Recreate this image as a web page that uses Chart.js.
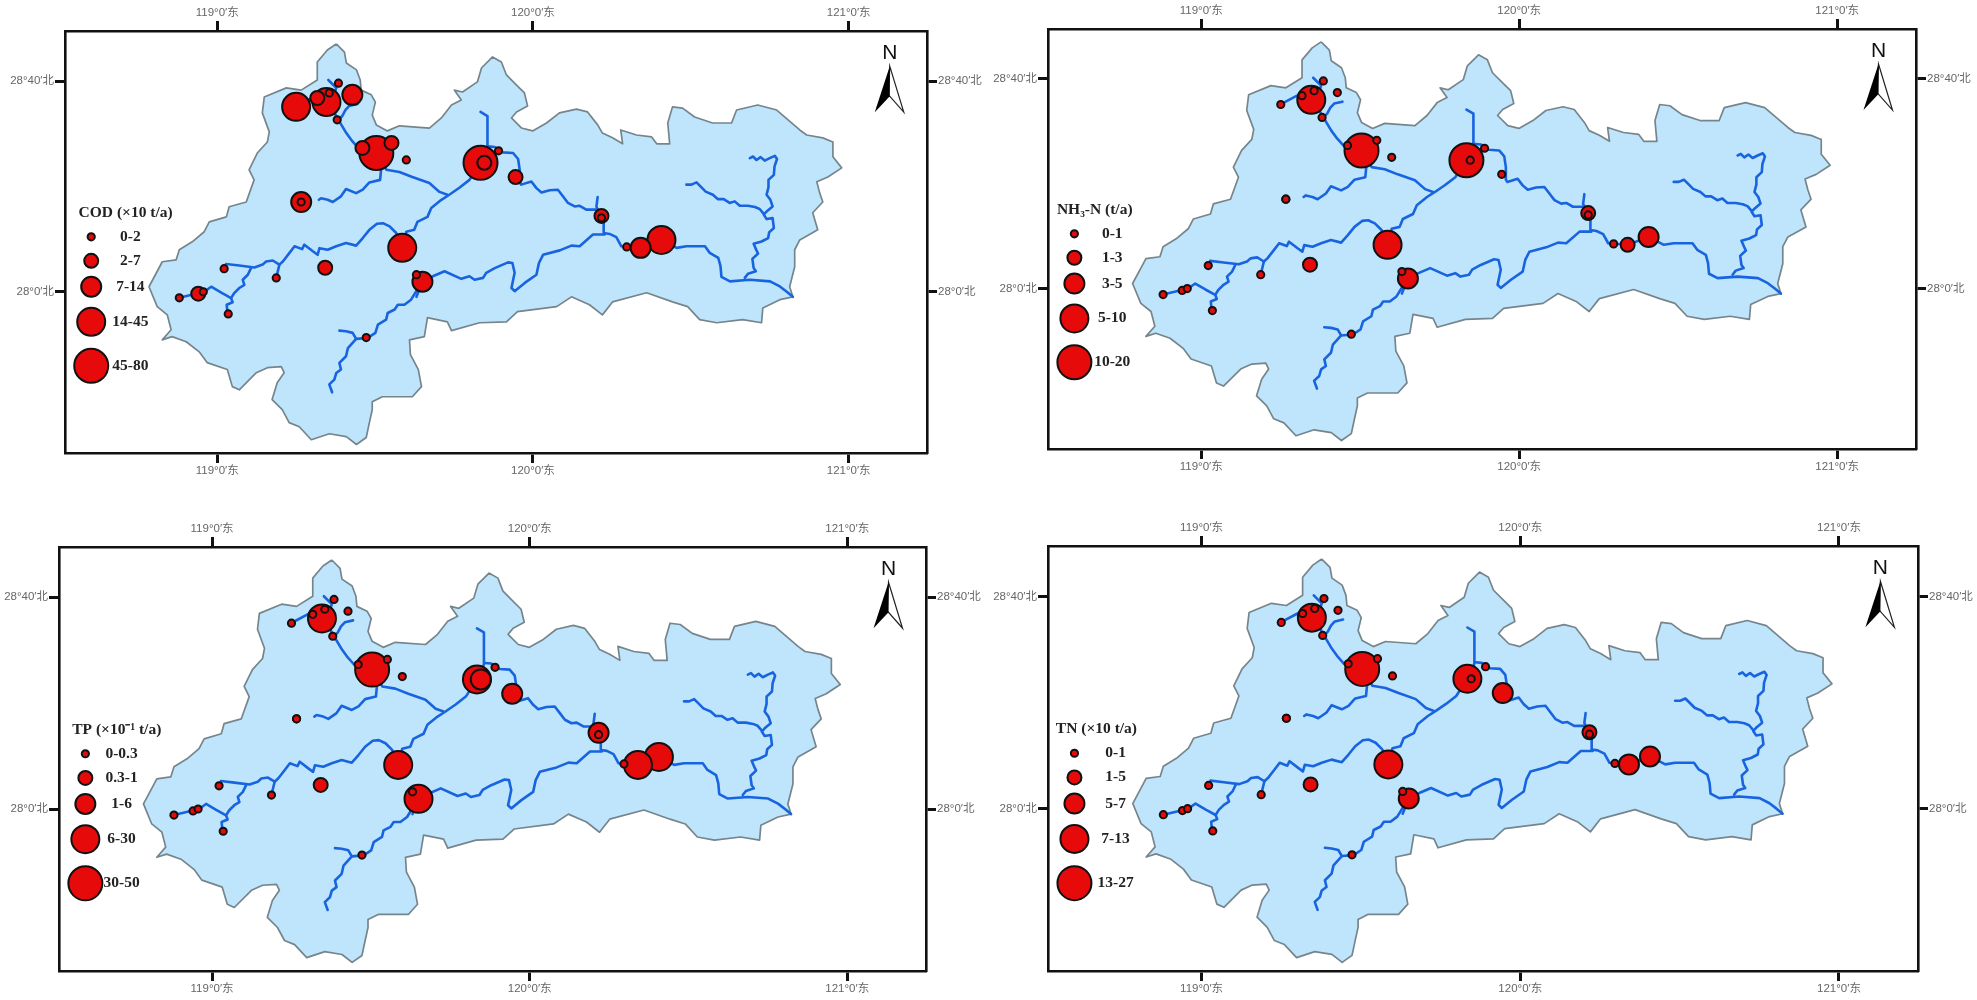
<!DOCTYPE html>
<html lang="zh">
<head>
    <meta charset="UTF-8">
    <title>流域污染负荷分布</title>
    <script src="https://cdn.jsdelivr.net/npm/chart.js"></script>
    <style>
        body { margin: 0; background: #fff; }
        canvas { position: absolute; }
    </style>
</head>
<body>
    <canvas id="mapCOD"></canvas>
    <canvas id="mapNH3"></canvas>
    <canvas id="mapTP"></canvas>
    <canvas id="mapTN"></canvas>

    <script>
        // axis ticks, degrees
        const lonTicks = [119, 120, 121];
        const lonTickLabels = ['119°0′东', '120°0′东', '121°0′东'];
        const latTicks = [28, 28.6667];
        const latTickLabels = ['28°0′北', '28°40′北'];

        // basin boundary [lon, lat]
        const basinOutline = [
            [119.377,28.784],[119.403,28.758],[119.409,28.724],[119.441,28.702],[119.453,28.670],[119.456,28.638],
            [119.488,28.623],[119.501,28.600],[119.491,28.559],[119.504,28.528],[119.539,28.509],[119.577,28.525],
            [119.672,28.518],[119.710,28.550],[119.742,28.591],[119.773,28.607],[119.751,28.638],[119.777,28.632],
            [119.824,28.664],[119.837,28.708],[119.872,28.743],[119.900,28.727],[119.916,28.686],[119.948,28.654],
            [119.973,28.629],[119.983,28.588],[119.948,28.569],[119.932,28.550],[119.964,28.518],[119.999,28.509],
            [120.043,28.534],[120.084,28.566],[120.138,28.578],[120.173,28.569],[120.205,28.528],[120.220,28.502],
            [120.252,28.487],[120.284,28.468],[120.278,28.512],[120.328,28.496],[120.376,28.490],[120.392,28.468],
            [120.433,28.468],[120.427,28.534],[120.442,28.585],[120.474,28.581],[120.512,28.553],[120.569,28.534],
            [120.629,28.534],[120.645,28.575],[120.712,28.591],[120.772,28.575],[120.845,28.512],[120.867,28.496],
            [120.918,28.487],[120.950,28.474],[120.950,28.427],[120.978,28.392],[120.934,28.363],[120.899,28.348],
            [120.908,28.313],[120.918,28.284],[120.886,28.250],[120.902,28.196],[120.845,28.164],[120.829,28.133],
            [120.829,28.079],[120.813,28.016],[120.823,27.984],[120.782,27.975],[120.728,27.949],[120.724,27.902],
            [120.664,27.912],[120.582,27.902],[120.528,27.912],[120.490,27.953],[120.442,27.968],[120.360,27.997],
            [120.252,27.968],[120.220,27.927],[120.179,27.959],[120.122,27.984],[120.075,27.953],[119.951,27.937],
            [119.916,27.905],[119.831,27.902],[119.742,27.877],[119.729,27.905],[119.666,27.918],[119.656,27.858],
            [119.609,27.848],[119.612,27.801],[119.637,27.754],[119.647,27.700],[119.618,27.668],[119.523,27.668],
            [119.491,27.652],[119.491,27.627],[119.482,27.586],[119.472,27.539],[119.441,27.517],[119.409,27.542],
            [119.355,27.551],[119.298,27.532],[119.260,27.573],[119.228,27.586],[119.206,27.627],[119.174,27.659],
            [119.190,27.712],[119.212,27.744],[119.203,27.763],[119.159,27.760],[119.124,27.744],[119.070,27.690],
            [119.048,27.700],[119.032,27.754],[118.968,27.776],[118.943,27.810],[118.902,27.842],[118.857,27.858],
            [118.826,27.848],[118.854,27.880],[118.842,27.927],[118.810,27.953],[118.784,28.016],[118.816,28.076],
            [118.826,28.095],[118.870,28.101],[118.880,28.133],[118.921,28.158],[118.959,28.190],[118.975,28.221],
            [119.029,28.237],[119.038,28.269],[119.092,28.284],[119.117,28.354],[119.101,28.386],[119.127,28.439],
            [119.159,28.474],[119.165,28.506],[119.143,28.566],[119.149,28.616],[119.219,28.645],[119.266,28.638],
            [119.317,28.670],[119.317,28.727],[119.349,28.765],[119.377,28.784]
        ];

        // river courses [lon, lat]
        const riverNorthWest = [[119.254,28.588],[119.301,28.613],[119.339,28.623],[119.384,28.544],[119.409,28.502],[119.425,28.480],[119.447,28.455],[119.504,28.439],[119.536,28.386],[119.577,28.379],[119.618,28.363],[119.672,28.344],[119.704,28.316],[119.729,28.307]];
        const riverHeadwater = [[119.352,28.670],[119.377,28.645],[119.365,28.607]];
        const riverHeadEast = [[119.444,28.594],[119.418,28.588],[119.406,28.575],[119.396,28.556],[119.384,28.544]];
        const riverMidSouth = [[119.503,28.439],[119.519,28.386],[119.516,28.354],[119.482,28.346],[119.461,28.323],[119.440,28.312],[119.408,28.325],[119.392,28.302],[119.366,28.284],[119.350,28.291],[119.329,28.296],[119.322,28.291]];
        const riverMainStem = [[119.586,28.139],[119.599,28.190],[119.624,28.196],[119.634,28.221],[119.666,28.237],[119.678,28.265],[119.710,28.291],[119.735,28.307],[119.767,28.329],[119.799,28.354],[119.834,28.408]];
        const riverNorthTrib = [[119.834,28.569],[119.856,28.556],[119.856,28.458],[119.846,28.408]];
        const riverEastMain = [[119.858,28.460],[119.879,28.458],[119.905,28.441],[119.937,28.439],[119.953,28.420],[119.958,28.386],[119.958,28.346],[119.963,28.339],[119.995,28.349],[120.011,28.328],[120.027,28.314],[120.053,28.321],[120.079,28.323],[120.095,28.302],[120.111,28.281],[120.132,28.270],[120.148,28.272],[120.169,28.260],[120.201,28.260],[120.217,28.239],[120.224,28.223],[120.224,28.186],[120.243,28.183],[120.264,28.173],[120.280,28.144],[120.341,28.139],[120.407,28.164],[120.455,28.139],[120.486,28.144],[120.545,28.144],[120.560,28.123],[120.587,28.107],[120.594,28.081],[120.597,28.047],[120.624,28.033],[120.687,28.038],[120.751,28.033],[120.782,28.017],[120.804,28.000],[120.823,27.984]];
        const riverStub = [[120.205,28.300],[120.201,28.269],[120.217,28.239]];
        const riverSouthEast = [[120.227,28.181],[120.190,28.181],[120.148,28.144],[120.122,28.146],[120.085,28.131],[120.032,28.117],[120.019,28.091],[120.011,28.054],[119.974,28.028],[119.942,28.002],[119.932,28.012],[119.942,28.060],[119.935,28.091],[119.921,28.093],[119.879,28.075],[119.852,28.060],[119.842,28.044],[119.815,28.038],[119.799,28.049],[119.773,28.041],[119.720,28.065],[119.683,28.049],[119.650,28.032]];
        const riverSouth = [[119.651,28.033],[119.630,28.001],[119.614,27.975],[119.593,27.959],[119.572,27.959],[119.562,27.944],[119.540,27.933],[119.535,27.912],[119.509,27.896],[119.501,27.870],[119.477,27.854],[119.440,27.851],[119.414,27.822],[119.408,27.796],[119.387,27.775],[119.392,27.754],[119.377,27.743],[119.371,27.722],[119.355,27.707],[119.364,27.682]];
        const riverSouthStub = [[119.650,28.032],[119.631,27.984]];
        const riverSouthBranch = [[119.440,27.851],[119.429,27.870],[119.408,27.875],[119.387,27.877]];
        const riverWest = [[119.588,28.138],[119.567,28.186],[119.546,28.207],[119.525,28.217],[119.506,28.215],[119.482,28.196],[119.461,28.170],[119.440,28.146],[119.408,28.154],[119.377,28.144],[119.350,28.133],[119.324,28.138],[119.318,28.117],[119.303,28.128],[119.276,28.149],[119.269,28.135],[119.245,28.144],[119.229,28.123],[119.208,28.096],[119.197,28.086],[119.176,28.099],[119.155,28.096],[119.144,28.086],[119.118,28.077],[119.070,28.083],[119.028,28.088]];
        const riverWestStub = [[119.197,28.086],[119.187,28.044]];
        const riverTrib = [[119.107,28.075],[119.097,28.054],[119.081,28.038],[119.086,28.022],[119.070,28.012],[119.054,27.996],[119.044,27.980],[119.049,27.967],[119.030,27.959],[119.033,27.930]];
        const riverFarWest = [[119.044,27.980],[119.013,27.997],[118.981,28.016],[118.959,28.000],[118.880,27.981]];
        const riverEastTrib = [[120.687,28.423],[120.697,28.428],[120.708,28.417],[120.721,28.426],[120.734,28.415],[120.750,28.423],[120.766,28.430],[120.773,28.420],[120.765,28.396],[120.763,28.370],[120.746,28.354],[120.746,28.331],[120.740,28.307],[120.752,28.291],[120.759,28.270],[120.740,28.254],[120.731,28.244],[120.740,28.230],[120.759,28.233],[120.763,28.202],[120.748,28.188],[120.745,28.170],[120.724,28.159],[120.699,28.152],[120.708,28.131],[120.713,28.121],[120.695,28.104],[120.699,28.075],[120.706,28.065],[120.681,28.057],[120.671,28.044]];
        const riverEastBranch = [[120.486,28.339],[120.502,28.339],[120.518,28.346],[120.533,28.331],[120.547,28.317],[120.570,28.307],[120.586,28.293],[120.604,28.293],[120.623,28.281],[120.639,28.286],[120.655,28.272],[120.681,28.272],[120.703,28.268],[120.718,28.262],[120.729,28.249]];
        const rivers = [riverNorthWest, riverHeadwater, riverHeadEast, riverMidSouth, riverMainStem, riverNorthTrib, riverEastMain, riverStub,
            riverSouthEast, riverSouth, riverSouthStub, riverSouthBranch, riverWest, riverWestStub, riverTrib, riverFarWest, riverEastTrib, riverEastBranch];

        // discharge sites
        const siteLon = [119.250,119.346,119.317,119.355,119.384,119.428,119.380,119.504,119.460,119.552,119.599,119.834,119.846,119.891,119.945,119.266,119.266,119.586,119.650,119.631,120.217,120.217,120.407,120.341,120.297,119.342,119.187,119.022,118.940,118.956,118.880,119.035,119.472];
        const siteLat = [28.585,28.600,28.613,28.629,28.660,28.623,28.544,28.439,28.455,28.471,28.417,28.408,28.408,28.446,28.363,28.284,28.284,28.139,28.032,28.054,28.240,28.234,28.164,28.139,28.142,28.076,28.044,28.073,27.994,28.000,27.981,27.930,27.855];

        // load class of every site (index into the legend classes)
        const codClass = [3,3,1,0,0,2,0,4,1,1,0,4,1,0,1,2,0,3,2,0,1,0,3,2,0,1,0,0,1,0,0,0,0];
        const nh3Class = [0,3,0,0,0,0,0,4,0,0,0,4,0,0,0,0,0,3,2,0,1,0,2,1,0,1,0,0,0,0,0,0,0];
        const tpClass  = [0,3,0,0,0,0,0,4,0,0,0,3,2,0,2,0,0,3,3,0,2,0,3,3,0,1,0,0,0,0,0,0,0];
        const tnClass  = [0,3,0,0,0,0,0,4,0,0,0,3,0,0,2,0,0,3,2,0,1,0,2,2,0,1,0,0,0,0,0,0,0];

        const codLegend = ['0-2', '2-7', '7-14', '14-45', '45-80'];
        const nh3Legend = ['0-1', '1-3', '3-5', '5-10', '10-20'];
        const tpLegend  = ['0-0.3', '0.3-1', '1-6', '6-30', '30-50'];
        const tnLegend  = ['0-1', '1-5', '5-7', '7-13', '13-27'];

        // legend placement on the map, degrees
        const legendLon = 118.601;
        const legendLat = [28.174, 28.098, 28.016, 27.905, 27.766];
        const legendTitleLat = 28.25;
        const northLon = 121.13;
        const northLat = 28.755;

        const classRadius = [3.6, 7, 10, 14, 17];
        const MX = 58, MY = 32;   // room for the axes round the map frame

        const panels = [
            { id: 'mapCOD', title: 'COD (×10 t/a)', legend: codLegend, classes: codClass, box: [65, 31, 927, 453], titleLon: 118.71, labelLon: 118.725 },
            { id: 'mapNH3', title: 'NH₃-N (t/a)', legend: nh3Legend, classes: nh3Class, box: [1048, 29, 1916, 449], titleLon: 118.665, labelLon: 118.72 },
            { id: 'mapTP', title: 'TP (×10⁻¹ t/a)', legend: tpLegend, classes: tpClass, box: [59, 547, 926, 971], titleLon: 118.70, labelLon: 118.715 },
            { id: 'mapTN', title: 'TN (×10 t/a)', legend: tnLegend, classes: tnClass, box: [1048, 546, 1918, 971], titleLon: 118.67, labelLon: 118.73 }
        ];

        const toPoints = list => list.map(p => ({ x: p[0], y: p[1] }));

        // legend text and north arrow, drawn on top of the map
        const mapDecor = {
            id: 'mapDecor',
            afterDatasetsDraw(chart, args, opts) {
                const { ctx, scales: { x, y } } = chart;
                ctx.save();
                ctx.textAlign = 'center';
                ctx.textBaseline = 'middle';
                ctx.fillStyle = '#222';
                ctx.font = 'bold 15.5px "Liberation Serif"';
                ctx.fillText(opts.title, x.getPixelForValue(opts.titleLon), y.getPixelForValue(legendTitleLat));
                opts.legend.forEach((txt, i) => {
                    ctx.fillText(txt, x.getPixelForValue(opts.labelLon), y.getPixelForValue(legendLat[i]));
                });

                const nx = x.getPixelForValue(northLon), ny = y.getPixelForValue(northLat);
                ctx.font = '21px "Liberation Sans"';
                ctx.fillStyle = '#111';
                ctx.fillText('N', nx, ny);
                ctx.beginPath();
                ctx.moveTo(nx, ny + 13); ctx.lineTo(nx + 14, ny + 59); ctx.lineTo(nx - 1, ny + 42); ctx.closePath();
                ctx.fillStyle = '#fff'; ctx.strokeStyle = '#222'; ctx.lineWidth = 1.2;
                ctx.fill(); ctx.stroke();
                ctx.beginPath();
                ctx.moveTo(nx, ny + 13); ctx.lineTo(nx - 15, ny + 59); ctx.lineTo(nx, ny + 43); ctx.closePath();
                ctx.fillStyle = '#000';
                ctx.fill();
                ctx.restore();
            }
        };

        function axisOpts(position, ticks, labels, min, max, horizontal) {
            return {
                type: 'linear', position, min, max,
                afterBuildTicks: s => { s.ticks = ticks.map(v => ({ value: v })); },
                afterFit: s => { if (horizontal) s.height = MY; else s.width = MX; },
                border: { color: '#111', width: 2.6 },
                grid: { drawOnChartArea: false, drawTicks: true, tickLength: 10, tickWidth: 3, tickColor: '#111' },
                ticks: {
                    autoSkip: false, maxRotation: 0, padding: 1, color: '#666',
                    font: { family: '"Liberation Sans","Noto Sans CJK SC"', size: 11.5 },
                    callback: v => labels[ticks.indexOf(v)]
                }
            };
        }

        panels.forEach(p => {
            const [l, t, r, b] = p.box;
            const canvas = document.getElementById(p.id);
            canvas.width = r - l + 2 * MX;
            canvas.height = b - t + 2 * MY;
            canvas.style.left = (l - MX) + 'px';
            canvas.style.top = (t - MY) + 'px';

            // big circles go down first so the small ones stay visible
            const sites = siteLon.map((lon, i) => ({ x: lon, y: siteLat[i], r: classRadius[p.classes[i]] }))
                .sort((a, b) => b.r - a.r);
            const legendMarks = legendLat.map((lat, i) => ({ x: legendLon, y: lat, r: classRadius[i] }));

            const datasets = [
                { type: 'scatter', data: toPoints(basinOutline), showLine: true, fill: 'shape', backgroundColor: '#bfe5fc',
                  borderColor: '#76858b', borderWidth: 1.7, borderJoinStyle: 'round', pointRadius: 0, tension: 0, order: 5 }
            ];
            rivers.forEach(river => {
                datasets.push({ type: 'scatter', data: toPoints(river), showLine: true, fill: false, borderColor: '#1864e0',
                    borderWidth: 2.6, borderJoinStyle: 'round', borderCapStyle: 'round', pointRadius: 0, tension: 0, order: 4 });
            });
            datasets.push({ type: 'bubble', data: sites, backgroundColor: '#e60a0a', borderColor: '#111', borderWidth: 2, order: 2 });
            datasets.push({ type: 'bubble', data: legendMarks, backgroundColor: '#e60a0a', borderColor: '#111', borderWidth: 2, order: 1 });

            new Chart(canvas, {
                data: { datasets },
                plugins: [mapDecor],
                options: {
                    responsive: false,
                    animation: false,
                    devicePixelRatio: 1,
                    layout: { padding: 0 },
                    scales: {
                        x: axisOpts('bottom', lonTicks, lonTickLabels, 118.518, 121.248, true),
                        xTop: axisOpts('top', lonTicks, lonTickLabels, 118.518, 121.248, true),
                        y: axisOpts('left', latTicks, latTickLabels, 27.49, 28.825, false),
                        yRight: axisOpts('right', latTicks, latTickLabels, 27.49, 28.825, false)
                    },
                    plugins: {
                        legend: { display: false },
                        tooltip: { enabled: false },
                        mapDecor: { title: p.title, legend: p.legend, titleLon: p.titleLon, labelLon: p.labelLon }
                    }
                }
            });
        });
    </script>
</body>
</html>
